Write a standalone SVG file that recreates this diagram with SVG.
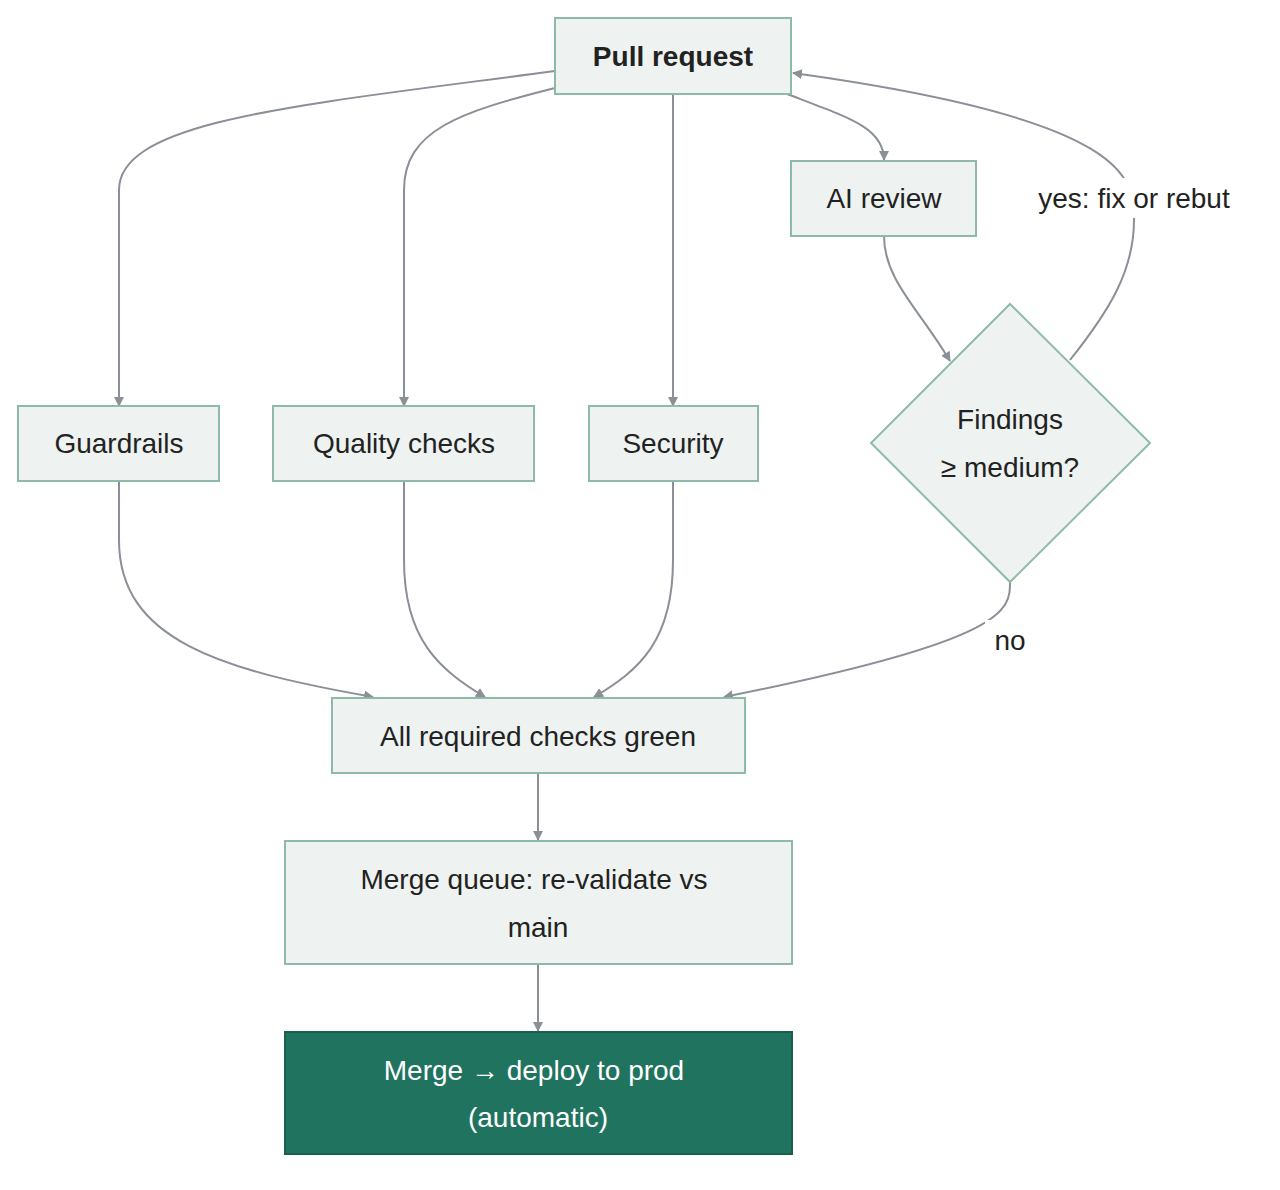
<svg xmlns="http://www.w3.org/2000/svg" width="1280" height="1190" viewBox="0 0 1280 1190">
<style>
.n{fill:#eef2f0;stroke:#8dbba8;stroke-width:2}
.d{fill:#1f735f;stroke:#1a5e4e;stroke-width:2}
text{font-family:"Liberation Sans",Arial,sans-serif;font-size:28px;fill:#222;text-anchor:middle}
.w{fill:#fff}
.e{fill:none;stroke:#8a8f98;stroke-width:2;marker-end:url(#a)}
</style>
<defs><marker id="a" viewBox="0 0 10 10" refX="9" refY="5" markerWidth="10" markerHeight="10" markerUnits="userSpaceOnUse" orient="auto"><path d="M0,0L10,5L0,10z" fill="#8a8f98"/></marker></defs>
<rect width="1280" height="1190" fill="#fff"/>
<g id="edges">
<path class="e" d="M555,71 C300,105 119,120 119,190 L119,406"/>
<path class="e" d="M555,88 C460,112 404,130 404,190 L404,406"/>
<path class="e" d="M673,94 L673,406"/>
<path class="e" d="M787,94 C850,118 884,128 884,160"/>
<path class="e" d="M884,236 C884,280 920,310 950,361"/>
<path class="e" d="M1070,360 C1110,310 1134,270 1134,220 C1134,180 1134,120 793,73"/>
<path class="e" d="M119,481 L119,540 C119,640 220,670 373,697"/>
<path class="e" d="M404,481 L404,560 C404,640 440,670 485,697"/>
<path class="e" d="M673,481 L673,560 C673,640 640,670 594,697"/>
<path class="e" d="M1010,582 C1010,610 1010,640 724,697"/>
<path class="e" d="M538,773 L538,840"/>
<path class="e" d="M538,964 L538,1031"/>
</g>
<rect x="985" y="620" width="50" height="40" fill="#fff"/>
<text x="1010" y="650">no</text>
<rect x="1025" y="178" width="218" height="40" fill="#fff"/>
<text x="1134" y="208">yes: fix or rebut</text>
<g id="pr"><rect class="n" x="555" y="18" width="236" height="76"/><text x="673" y="66" font-weight="bold">Pull request</text></g>
<g id="ai"><rect class="n" x="791" y="161" width="185" height="75"/><text x="884" y="208">AI review</text></g>
<g id="guard"><rect class="n" x="18" y="406" width="201" height="75"/><text x="119" y="453">Guardrails</text></g>
<g id="quality"><rect class="n" x="273" y="406" width="261" height="75"/><text x="404" y="453">Quality checks</text></g>
<g id="sec"><rect class="n" x="589" y="406" width="169" height="75"/><text x="673" y="453">Security</text></g>
<g id="find"><path class="n" d="M1010,304 L1150,443 L1010,582 L871,443 Z"/><text x="1010" y="429">Findings</text><text x="1010" y="477">≥ medium?</text></g>
<g id="green"><rect class="n" x="332" y="698" width="413" height="75"/><text x="538" y="746">All required checks green</text></g>
<g id="mq"><rect class="n" x="285" y="841" width="507" height="123"/><text x="534" y="889">Merge queue: re-validate vs</text><text x="538" y="937">main</text></g>
<g id="deploy"><rect class="d" x="285" y="1032" width="507" height="122"/><text class="w" x="534" y="1080">Merge → deploy to prod</text><text class="w" x="538" y="1127">(automatic)</text></g>
</svg>
